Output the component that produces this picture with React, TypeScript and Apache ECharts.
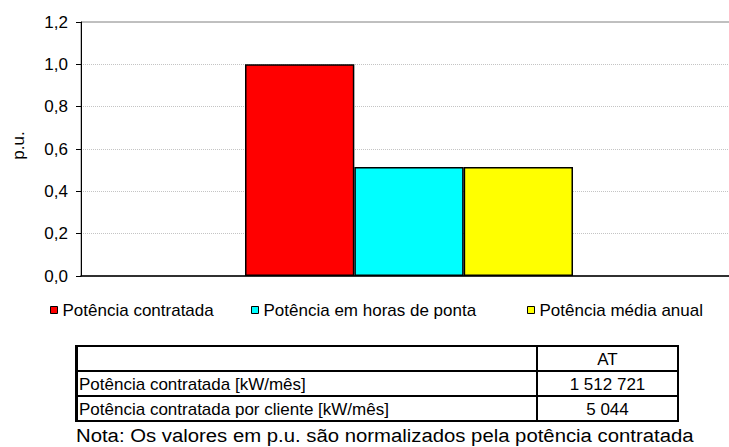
import React, { useEffect, useRef } from "react";
import * as echarts from "echarts";

const seriesNames = ["Potência contratada", "Potência em horas de ponta", "Potência média anual"];
const seriesValues = [1.0, 0.515, 0.515];
const seriesColors = ["#FF0000", "#00FFFF", "#FFFF00"];
const categories = [""];
const yTicks = { min: 0, max: 1.2, interval: 0.2 };
const tableHeader = ["", "AT"];
const tableLabels = ["Potência contratada [kW/mês]", "Potência contratada por cliente [kW/mês]"];
const tableValues = ["1 512 721", "5 044"];
const noteText = "Nota: Os valores em p.u. são normalizados pela potência contratada";
const yAxisTitle = "p.u.";

const FONT = "'Liberation Sans', Arial, sans-serif";
const FS = 17;

export default function App() {
  const ref = useRef<HTMLDivElement>(null);
  useEffect(() => {
    if (!ref.current) return;
    const chart = echarts.init(ref.current, undefined, { renderer: "svg" });

    const legendLefts = [50, 251, 527];
    const tX0 = 76, tX1 = 537, tX2 = 678;
    const rowYs = [346, 371, 396, 421];

    const graphics: any[] = [];
    graphics.push({
      type: "text",
      x: 18,
      y: 145.5,
      rotation: Math.PI / 2,
      style: { text: yAxisTitle, font: `${FS}px ${FONT}`, fill: "#000", align: "center", verticalAlign: "middle" },
    });
    graphics.push({
      type: "rect",
      shape: { x: tX0, y: rowYs[0], width: tX2 - tX0, height: rowYs[3] - rowYs[0] },
      style: { fill: "none", stroke: "#000", lineWidth: 2 },
    });
    graphics.push({
      type: "line",
      shape: { x1: tX0 + 1.5, y1: rowYs[0], x2: tX0 + 1.5, y2: rowYs[3] },
      style: { stroke: "#000", lineWidth: 1 },
    });
    for (let i = 1; i < 3; i++) {
      graphics.push({
        type: "line",
        shape: { x1: tX0, y1: rowYs[i], x2: tX2, y2: rowYs[i] },
        style: { stroke: "#000", lineWidth: 2 },
      });
    }
    graphics.push({
      type: "line",
      shape: { x1: tX1, y1: rowYs[0], x2: tX1, y2: rowYs[3] },
      style: { stroke: "#000", lineWidth: 2 },
    });
    graphics.push({
      type: "text",
      x: (tX1 + tX2) / 2,
      y: (rowYs[0] + rowYs[1]) / 2 + 1,
      style: { text: tableHeader[1], font: `${FS}px ${FONT}`, fill: "#000", align: "center", verticalAlign: "middle" },
    });
    tableLabels.forEach((lab, i) => {
      const cy = (rowYs[i + 1] + rowYs[i + 2]) / 2 + 1;
      graphics.push({
        type: "text",
        x: tX0 + 3,
        y: cy,
        style: { text: lab, font: `${FS}px ${FONT}`, fill: "#000", align: "left", verticalAlign: "middle" },
      });
      graphics.push({
        type: "text",
        x: (tX1 + tX2) / 2,
        y: cy,
        style: { text: tableValues[i], font: `${FS}px ${FONT}`, fill: "#000", align: "center", verticalAlign: "middle" },
      });
    });
    graphics.push({
      type: "text",
      x: 76,
      y: 435,
      scaleX: 1.07,
      style: { text: noteText, font: `19px ${FONT}`, fill: "#000", align: "left", verticalAlign: "middle" },
    });

    const nTicks = Math.round((yTicks.max - yTicks.min) / yTicks.interval) + 1;
    const splitColors = Array.from({ length: nTicks }, (_, i) => (i === nTicks - 1 ? "rgba(0,0,0,0)" : "#c4c4c4"));

    chart.setOption({
      animation: false,
      textStyle: { fontFamily: FONT },
      grid: {
        left: 81,
        right: 0,
        top: 22,
        bottom: 447 - 276,
        show: true,
        borderColor: "#808080",
        borderWidth: 1,
        backgroundColor: "transparent",
      },
      legend: seriesNames.map((n, i) => ({
        data: [n],
        left: legendLefts[i],
        top: 300,
        padding: 0,
        icon: "rect",
        itemWidth: 7,
        itemHeight: 7,
        itemGap: 5,
        selectedMode: false,
        itemStyle: { borderColor: "#000", borderWidth: 1 },
        textStyle: { fontSize: FS, color: "#000", fontFamily: FONT, lineHeight: 20, padding: [0, 0, 0, 0] },
      })),
      xAxis: {
        type: "category",
        data: categories,
        axisLine: { show: true, lineStyle: { color: "#000", width: 1.5 } },
        axisTick: { show: false },
        axisLabel: { show: false },
        splitLine: { show: false },
      },
      yAxis: {
        type: "value",
        min: yTicks.min,
        max: yTicks.max,
        interval: yTicks.interval,
        axisLine: { show: true, lineStyle: { color: "#000", width: 1 } },
        axisTick: { show: true, inside: false, length: 5, lineStyle: { color: "#000" } },
        axisLabel: {
          margin: 13,
          fontSize: FS,
          color: "#000",
          fontFamily: FONT,
          formatter: (v: number) => v.toFixed(1).replace(".", ","),
        },
        splitLine: { show: true, lineStyle: { color: splitColors, type: [1, 1], width: 1 } },
      },
      series: seriesNames.map((n, i) => ({
        name: n,
        type: "bar",
        data: [seriesValues[i]],
        barGap: "0%",
        barCategoryGap: "50%",
        itemStyle: { color: seriesColors[i], borderColor: "#000", borderWidth: 1.5 },
      })),
      graphic: graphics,
    });
    return () => chart.dispose();
  }, []);
  return (
    <div style={{ position: "fixed", left: 0, top: 0, width: 729, height: 447, overflow: "hidden", background: "#fff" }}>
      <div ref={ref} style={{ width: 737, height: 447 }} />
    </div>
  );
}
